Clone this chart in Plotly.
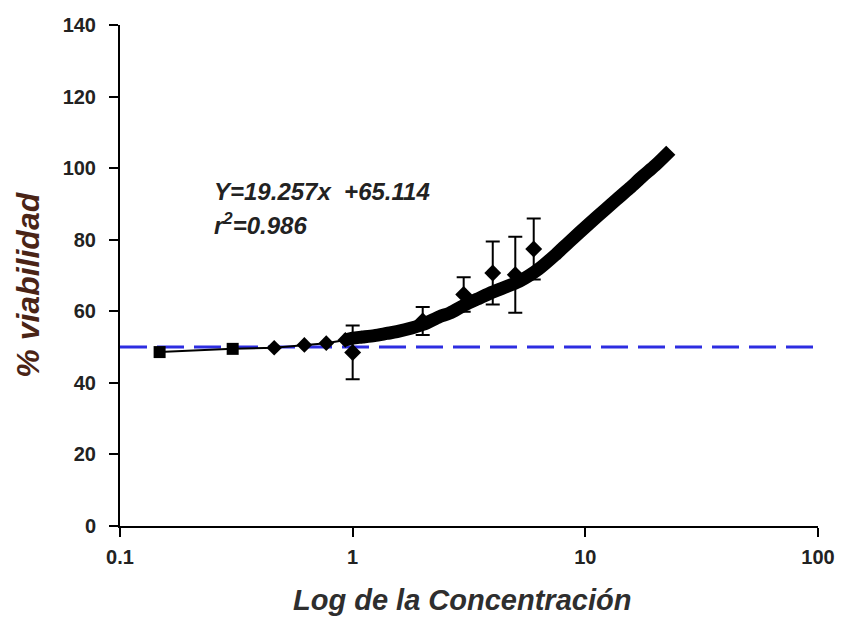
import plotly.graph_objects as go

# Discrete measured points (no error bars)
low_x = [0.148, 0.305, 0.46, 0.62, 0.77, 0.93]
low_y = [48.6, 49.5, 49.8, 50.6, 51.1, 52.0]

# Measured points with error bars
err_x = [1.0, 2.0, 3.0, 4.0, 5.0, 6.0]
err_y = [48.5, 57.3, 64.7, 70.7, 70.2, 77.4]
err_v = [7.5, 3.9, 4.8, 8.8, 10.6, 8.5]

# Thick fitted band
fit_x = [0.93, 1.0, 1.1, 1.24, 1.4, 1.55, 2.0, 2.36, 2.61, 3.0, 3.51, 4.0,
         5.21, 6.3, 7.5, 8.5, 10.4, 12.3, 13.6, 15.5, 17.6, 20.0, 23.3]
fit_y = [52.0, 52.5, 52.8, 53.2, 53.8, 54.3, 56.3, 58.5, 59.5, 61.6, 63.7, 65.4,
         68.4, 71.8, 76.0, 79.3, 84.5, 88.7, 91.2, 94.4, 97.7, 100.8, 105.0]

ref_x = [0.1, 100]
ref_y = [50, 50]

x_ticks = [0.1, 1, 10, 100]
x_tick_text = ["0.1", "1", "10", "100"]
y_ticks = [0, 20, 40, 60, 80, 100, 120, 140]

FONT = "Liberation Sans, Arial, sans-serif"

fig = go.Figure()

fig.add_trace(go.Scatter(
    x=ref_x, y=ref_y, mode="lines",
    line=dict(color="rgb(45,45,225)", width=3, dash="27px,10px"),
    hoverinfo="skip", showlegend=False))

fig.add_trace(go.Scatter(
    x=low_x, y=low_y, mode="lines+markers",
    line=dict(color="black", width=2),
    marker=dict(symbol=["square", "square", "diamond", "diamond", "diamond", "diamond"],
                size=12, color="black"),
    showlegend=False))

fig.add_trace(go.Scatter(
    x=fit_x, y=fit_y, mode="lines",
    line=dict(color="black", width=13, shape="spline", smoothing=0.8),
    showlegend=False))

fig.add_trace(go.Scatter(
    x=err_x, y=err_y, mode="markers",
    marker=dict(symbol="diamond", size=13, color="black"),
    error_y=dict(type="data", array=err_v, visible=True,
                 color="black", thickness=2, width=7),
    showlegend=False))

fig.add_annotation(
    xref="paper", yref="paper", x=0.132, y=0.667, xanchor="left", yanchor="middle",
    text="<b><i>Y=19.257x  +65.114</i></b>", showarrow=False,
    font=dict(family=FONT, size=24, color="#222"))
fig.add_annotation(
    xref="paper", yref="paper", x=0.132, y=0.603, xanchor="left", yanchor="middle",
    text="<b><i>r<sup>2</sup>=0.986</i></b>", showarrow=False,
    font=dict(family=FONT, size=24, color="#222"))

# Axis titles
fig.add_annotation(
    xref="paper", yref="paper", x=-0.133, y=0.482, xanchor="center", yanchor="middle",
    text="<b><i>% viabilidad</i></b>", textangle=-90, showarrow=False,
    font=dict(family=FONT, size=32, color="#4a2416"))
fig.add_annotation(
    xref="paper", yref="paper", x=0.49, y=-0.148, xanchor="center", yanchor="middle",
    text="<b><i>Log de la Concentración</i></b>", showarrow=False,
    font=dict(family=FONT, size=29, color="#2e2e2e"))

fig.update_layout(
    width=838, height=612,
    margin=dict(l=112, r=28, t=17, b=94),
    plot_bgcolor="white", paper_bgcolor="white",
    font=dict(family=FONT, color="#222"),
    xaxis=dict(
        type="log", range=[-1, 2], automargin=False,
        tickmode="array", tickvals=x_ticks, ticktext=x_tick_text,
        showgrid=False, zeroline=False,
        showline=True, linecolor="black", linewidth=2,
        ticks="outside", ticklen=9, tickwidth=2, tickcolor="black",
        ticklabelstandoff=3,
        tickfont=dict(family=FONT, size=20, color="#222", weight="bold"),
    ),
    yaxis=dict(
        range=[0, 140], automargin=False,
        tickmode="array", tickvals=y_ticks,
        showgrid=False, zeroline=False,
        showline=True, linecolor="black", linewidth=2,
        ticks="outside", ticklen=9, tickwidth=2, tickcolor="black",
        ticklabelstandoff=9,
        tickfont=dict(family=FONT, size=20, color="#222", weight="bold"),
    ),
)

fig.write_html("out.html")
